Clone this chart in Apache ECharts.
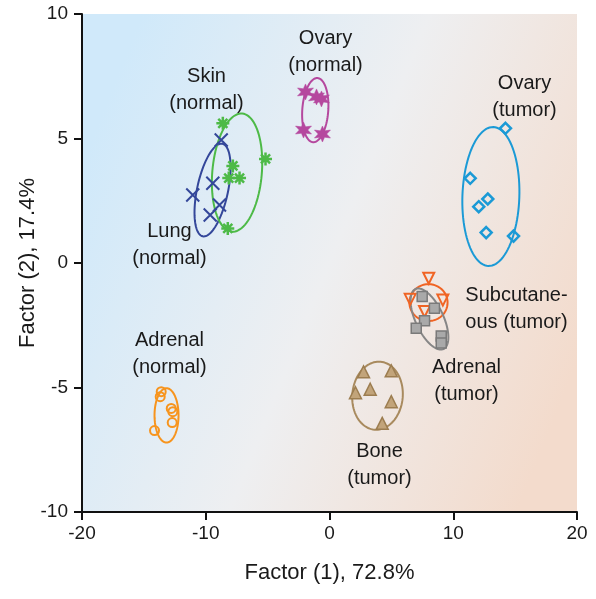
<!DOCTYPE html>
<html><head><meta charset="utf-8">
<script src="https://cdn.jsdelivr.net/npm/echarts@6/dist/echarts.min.js"></script>
<style>html,body{margin:0;padding:0;background:#fff}#c{width:596px;height:599px}</style>
</head><body><div id="c"></div>
<script>
// ---- data ----
const lungNormal = [[-8.75,4.94],[-9.43,3.20],[-11.05,2.73],[-8.89,2.33],[-9.64,1.93]];
const skinNormal = [[-8.62,5.61],[-5.17,4.18],[-7.81,3.90],[-8.14,3.41],[-7.27,3.41],[-8.22,1.39]];
const ovaryNormal = [[-1.94,6.87],[-1.05,6.67],[-0.65,6.59],[-2.10,5.34],[-0.57,5.18]];
const ovaryTumor = [[14.22,5.41],[11.37,3.40],[12.79,2.57],[12.06,2.26],[12.66,1.22],[14.87,1.08]];
const subcutTumor = [[8.02,-0.61],[6.52,-1.46],[9.16,-1.49],[7.68,-1.95]];
const adrenalTumor = [[7.49,-1.35],[8.48,-1.82],[7.68,-2.32],[7.01,-2.62],[9.03,-2.93],[9.03,-3.21]];
const boneTumor = [[2.75,-4.37],[4.99,-4.33],[2.10,-5.21],[3.29,-5.07],[4.99,-5.57],[4.26,-6.44]];
const adrenalNormal = [[-13.60,-5.17],[-13.68,-5.37],[-12.79,-5.84],[-12.66,-5.97],[-12.71,-6.41],[-14.14,-6.73]];

// ellipses: [centerX, centerY, radiusX, radiusY, tiltDeg]
const ellLung = [-9.45,2.93,1.25,1.9,12];
const ellSkin = [-7.47,3.63,2.0,2.38,5];
const ellOvaryN = [-1.15,6.14,1.05,1.29,4];
const ellOvaryT = [13.04,2.67,2.3,2.79,2];
const ellSubcut = [8.0,-1.59,1.54,0.74,0];
const ellAdrenalT = [8.08,-2.25,1.13,1.33,-25];
const ellBone = [3.88,-5.33,2.04,1.37,5];
const ellAdrenalN = [-13.17,-6.12,0.97,1.09,0];

const labelTexts = ['Skin\n(normal)','Ovary\n(normal)','Ovary\n(tumor)','Lung\n(normal)','Subcutane-\nous (tumor)','Adrenal\n(tumor)','Bone\n(tumor)','Adrenal\n(normal)'];
const labelX = [-9.94,-0.32,15.76,-12.93,15.11,11.07,4.04,-12.93];
const labelY = [6.95,8.47,6.67,0.72,-1.85,-4.74,-8.11,-3.65];

const xTicks = [-20,-10,0,10,20];
const yTicks = [-10,-5,0,5,10];

// ---- marker shapes ----
function starPath(){
  let p=[];
  for(let k=0;k<12;k++){
    const a=(-90+k*30)*Math.PI/180, r=(k%2===0)?10:4.6;
    p.push((k?'L':'M')+(10+r*Math.cos(a)).toFixed(2)+','+(10+r*Math.sin(a)).toFixed(2));
  }
  return 'path://'+p.join('')+'Z';
}
const X_PATH='path://M0,0L10,10M10,0L0,10';
const AST_PATH='path://M5,0L5,10M0,5L10,5M1.5,1.5L8.5,8.5M8.5,1.5L1.5,8.5';
const TRI_DOWN='path://M0,0L10,0L5,8.66Z';

function scatter(data,symbol,size,style){
  style.opacity=1;
  return {type:'scatter',data:data,symbol:symbol,symbolSize:size,itemStyle:style,z:3,silent:true};
}
function ellipse(p,color){
  return {type:'custom',data:[p],z:2,silent:true,clip:false,
    renderItem:function(params,api){
      const c=api.coord([api.value(0),api.value(1)]);
      const s=api.size([api.value(2),api.value(3)]);
      const t=api.value(4)*Math.PI/180;
      const pts=[];
      for(let i=0;i<96;i++){
        const a=i/96*2*Math.PI;
        const ex=s[0]*Math.cos(a), ey=s[1]*Math.sin(a);
        pts.push([c[0]+ex*Math.cos(t)-ey*Math.sin(t), c[1]+ex*Math.sin(t)+ey*Math.cos(t)]);
      }
      return {type:'polygon',shape:{points:pts},style:{fill:'none',stroke:color,lineWidth:2}};
    }};
}

const cLung='#34479a', cSkin='#4dba47', cOvN='#b5489e', cOvT='#1b9ad6', cSub='#f06424', cAdT='#868686', cBone='#a88a5e', cAdN='#f7941d';

const chart=echarts.init(document.getElementById('c'));
chart.setOption({
  animation:false,
  grid:{left:82,right:19,top:14,bottom:87,show:true,borderWidth:0,
    backgroundColor:{type:'linear',x:0,y:0.3,x2:1,y2:0.7,colorStops:[
      {offset:0,color:'#d0e9fa'},{offset:0.5,color:'#eeeff1'},{offset:1,color:'#f3dbcc'}]}},
  xAxis:{type:'value',min:xTicks[0],max:xTicks[xTicks.length-1],interval:10,
    axisLine:{show:true,onZero:false,lineStyle:{color:'#111',width:2}},
    axisTick:{show:true,length:8,lineStyle:{color:'#111',width:2}},
    splitLine:{show:false},
    axisLabel:{fontSize:19,color:'#1a1a1a',margin:12,fontFamily:'Liberation Sans'},
    name:'Factor (1), 72.8%',nameLocation:'middle',nameGap:50,nameMoveOverlap:false,
    nameTextStyle:{fontSize:22,color:'#1a1a1a',fontFamily:'Liberation Sans'}},
  yAxis:{type:'value',min:yTicks[0],max:yTicks[yTicks.length-1],interval:5,
    axisLine:{show:true,onZero:false,lineStyle:{color:'#111',width:2}},
    axisTick:{show:true,length:8,lineStyle:{color:'#111',width:2}},
    splitLine:{show:false},
    axisLabel:{fontSize:19,color:'#1a1a1a',margin:14,fontFamily:'Liberation Sans'},
    name:'Factor (2), 17.4%',nameLocation:'middle',nameGap:43,nameMoveOverlap:false,
    nameTextStyle:{fontSize:22,color:'#1a1a1a',fontFamily:'Liberation Sans'}},
  series:[
    ellipse(ellLung,cLung),ellipse(ellSkin,cSkin),ellipse(ellOvaryN,cOvN),ellipse(ellOvaryT,cOvT),
    ellipse(ellSubcut,cSub),ellipse(ellAdrenalT,cAdT),ellipse(ellBone,cBone),ellipse(ellAdrenalN,cAdN),
    scatter(lungNormal,X_PATH,13,{color:'none',borderColor:cLung,borderWidth:2}),
    scatter(skinNormal,AST_PATH,13,{color:'none',borderColor:cSkin,borderWidth:2.5}),
    scatter(ovaryNormal,starPath(),16,{color:cOvN,borderColor:cOvN,borderWidth:0.5}),
    scatter(ovaryTumor,'diamond',11,{color:'rgba(255,255,255,0)',borderColor:cOvT,borderWidth:2.5}),
    scatter(subcutTumor,TRI_DOWN,11,{color:'rgba(255,255,255,0)',borderColor:cSub,borderWidth:2}),
    scatter(adrenalTumor,'rect',10,{color:'#a9a9a9',borderColor:'#7a7a7a',borderWidth:1.5}),
    scatter(boneTumor,'triangle',12,{color:'#c2a47a',borderColor:'#9c7d50',borderWidth:1.5}),
    scatter(adrenalNormal,'circle',9,{color:'rgba(255,255,255,0)',borderColor:cAdN,borderWidth:2}),
    {type:'scatter',symbolSize:0,silent:true,z:4,itemStyle:{opacity:1},
      data:labelTexts.map((t,i)=>({value:[labelX[i],labelY[i]],name:t})),
      label:{show:true,position:'inside',formatter:p=>p.name,fontSize:20,lineHeight:27,
        color:'#1a1a1a',textBorderWidth:0,textBorderColor:'transparent',opacity:1,
        fontFamily:'Liberation Sans',align:'center',verticalAlign:'middle'}}
  ]
});
</script></body></html>
